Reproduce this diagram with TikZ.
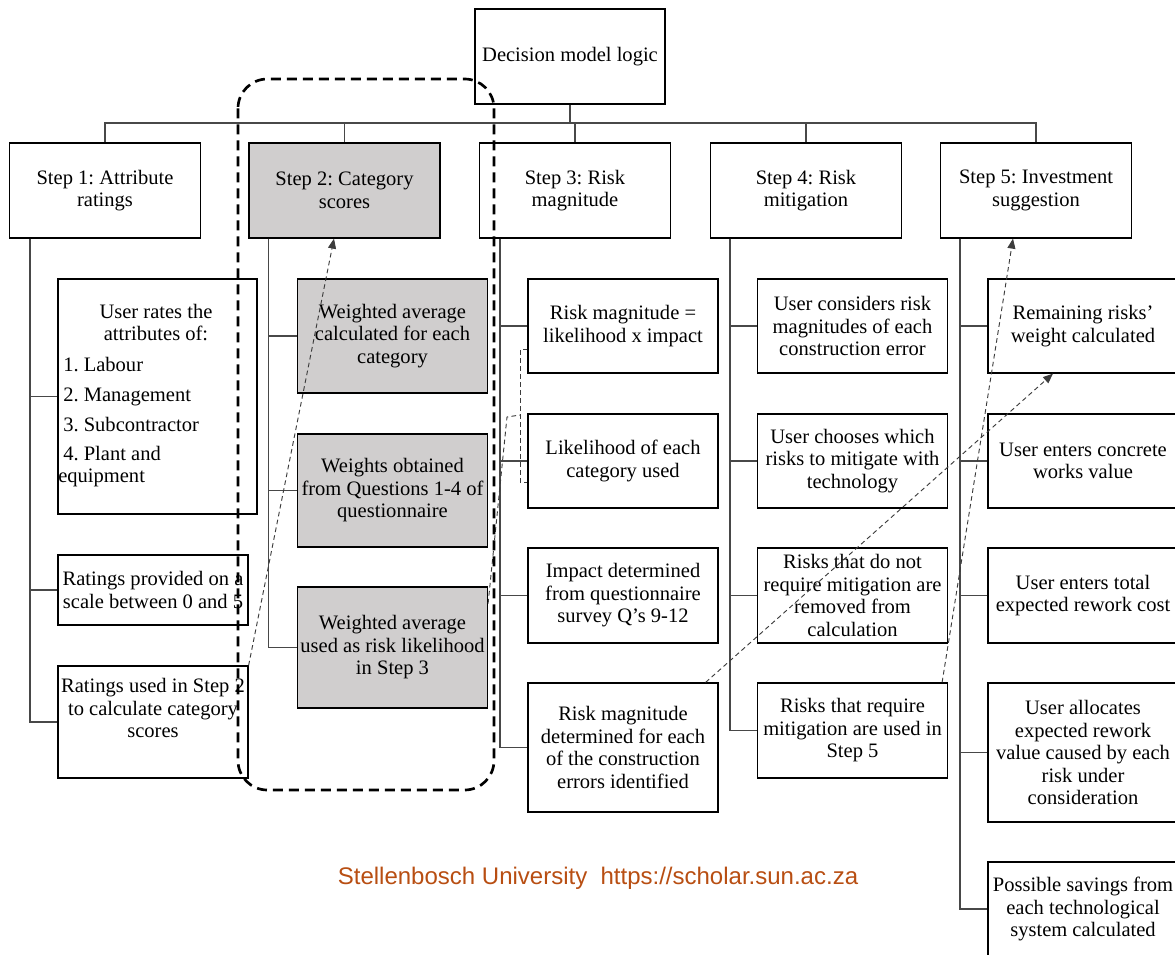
\documentclass[tikz,border=0pt]{standalone}
\usepackage{fontspec}
\setmainfont{Liberation Serif}
\newfontfamily\wmfont{Liberation Sans}
\usetikzlibrary{arrows.meta,calc}
\definecolor{boxgray}{RGB}{208,206,206}
\definecolor{linkgray}{RGB}{72,72,72}
\definecolor{flowgray}{RGB}{60,60,60}
\definecolor{wmorange}{RGB}{184,78,18}
\frenchspacing

\begin{document}
\begin{tikzpicture}[x=0.75pt,y=-0.75pt,
  boxfont/.style={font=\fontsize{15.4}{16.9}\selectfont},
  box/.style={draw=black, line width=0.9pt, fill=white, inner sep=0pt, align=center, boxfont},
  stepbox/.style={box, minimum width=143.25pt, minimum height=71.25pt},
  cbox/.style={box, minimum width=142.5pt},
  gbox/.style={cbox, fill=boxgray},
  txt/.style={inner sep=0pt, boxfont},
  link/.style={draw=linkgray, line width=0.9pt},
  group/.style={draw=black, line width=2pt, dash pattern=on 7.5pt off 4.5pt, rounded corners=22pt},
  flow/.style={draw=flowgray, line width=0.7pt, dash pattern=on 3.5pt off 2.5pt},
  tip/.style={-{Triangle[length=7.5pt,width=6pt]}}
]
\useasboundingbox (0,0) rectangle (1175,954);
\clip (0,0) rectangle (1175,954);

% root and the five steps
\node[box, minimum width=142.5pt, minimum height=71.25pt] (top) at (570,56.5) {Decision model logic};
\node[stepbox] (s1) at (105,190.5) {Step 1: Attribute\\ratings};
\node[stepbox, fill=boxgray] (s2) at (344.5,190.5) {Step 2: Category\\scores};
\node[stepbox] (s3) at (575,190.5) {Step 3: Risk\\magnitude};
\node[stepbox] (s4) at (806,190.5) {Step 4: Risk\\mitigation};
\node[stepbox] (s5) at (1036,190.5) {Step 5: Investment\\suggestion};

% step 1 column
\node[box, minimum width=149.25pt, minimum height=176.25pt] (a1) at (157.5,396.5) {};
\node[txt, anchor=mid] (a1l1) at (156,315) {User rates the};
\node[txt, anchor=mid] (a1l2) at (156,337) {attributes of:};
\node[txt, anchor=mid west] (a1l3) at (63,368) {1. Labour};
\node[txt, anchor=mid west] (a1l4) at (63,398) {2. Management};
\node[txt, anchor=mid west] (a1l5) at (63,428) {3. Subcontractor};
\node[txt, anchor=mid west] (a1l6) at (63,457) {4. Plant and};
\node[txt, anchor=mid west] (a1l7) at (58,479) {equipment};
\node[cbox, minimum height=52.5pt] (a2) at (153,590) {Ratings provided on a\\scale between 0 and 5};
\node[cbox, minimum height=84pt] (a3) at (153,722) {};
\node[txt, align=center] (a3t) at (153,708) {Ratings used in Step 2\\to calculate category\\scores};

% step 2 column
\node[gbox, minimum height=85.5pt] (b1) at (392.5,336) {Weighted average\\calculated for each\\category};
\node[gbox, minimum height=84.75pt] (b2) at (392.5,490.5) {Weights obtained\\from Questions 1-4 of\\questionnaire};
\node[gbox, minimum height=90.75pt] (b3) at (392.5,647.5) {Weighted average\\used as risk likelihood\\in Step 3};

% step 3 column
\node[cbox, minimum height=70.5pt] (c1) at (623,326) {Risk magnitude =\\likelihood x impact};
\node[cbox, minimum height=70.5pt] (c2) at (623,461) {Likelihood of each\\category used};
\node[cbox, minimum height=71.25pt] (c3) at (623,595.5) {Impact determined\\from questionnaire\\survey Q’s 9-12};
\node[cbox, minimum height=96.75pt] (c4) at (623,747.5) {Risk magnitude\\determined for each\\of the construction\\errors identified};

% step 4 column
\node[cbox, minimum height=70.5pt] (d1) at (852.5,326) {User considers risk\\magnitudes of each\\construction error};
\node[cbox, minimum height=70.5pt] (d2) at (852.5,461) {User chooses which\\risks to mitigate with\\technology};
\node[cbox, minimum height=71.25pt] (d3) at (852.5,595.5) {Risks that do not\\require mitigation are\\removed from\\calculation};
\node[cbox, minimum height=71.25pt] (d4) at (852.5,730.5) {Risks that require\\mitigation are used in\\Step 5};

% step 5 column
\node[cbox, minimum height=70.5pt] (e1) at (1083,326) {Remaining risks’\\weight calculated};
\node[cbox, minimum height=70.5pt] (e2) at (1083,461) {User enters concrete\\works value};
\node[cbox, minimum height=71.25pt] (e3) at (1083,595.5) {User enters total\\expected rework cost};
\node[cbox, minimum height=104.25pt] (e4) at (1083,752.5) {User allocates\\expected rework\\value caused by each\\risk under\\consideration};
\node[cbox, minimum height=70.5pt] (e5) at (1083,909) {Possible savings from\\each technological\\system calculated};

% tree connectors
\coordinate (bus) at (570,123);
\draw[link] (top.south) -- (bus);
\foreach \s in {s1,s2,s3,s4,s5} \draw[link] (\s.north) |- (bus);

\coordinate (t1) at ($(s1.south west)+(21,0)$);
\coordinate (t2) at ($(s2.south west)+(20,0)$);
\coordinate (t3) at ($(s3.south west)+(21,0)$);
\coordinate (t4) at ($(s4.south west)+(20,0)$);
\coordinate (t5) at ($(s5.south west)+(20,0)$);
\foreach \c in {a1,a2,a3} \draw[link] (t1) |- (\c.west);
\foreach \c in {b1,b2,b3} \draw[link] (t2) |- (\c.west);
\foreach \c in {c1,c2,c3,c4} \draw[link] (t3) |- (\c.west);
\foreach \c in {d1,d2,d3,d4} \draw[link] (t4) |- (\c.west);
\foreach \c in {e1,e2,e3,e4,e5} \draw[link] (t5) |- (\c.west);

% information flow between steps
\draw[flow, tip] (a3.north east) -- ($(s2.south)+(-10.5,0)$);
\coordinate (j) at (520,415);
\draw[flow] ($(c1.west)+(0,23)$) -- ++(-7,0) |- ($(c2.west)+(0,21)$);
\draw[flow] ($(b3.east)+(0,-44)$) -- (507,417) -- (j);
\draw[flow, tip] ($(c4.north east)+(-13,0)$) -- ($(e1.south)+(-30,0)$);
\draw[flow, tip] ($(d4.north east)+(-6,0)$) -- ($(s5.south)+(-23,0)$);

% step 2 grouping
\draw[group] (238,79) rectangle (494,790);

% footer
\node[font=\wmfont\fontsize{18}{21}\selectfont, text=wmorange, anchor=base, inner sep=0pt] (wm) at (598,884) {Stellenbosch University\ \ https://scholar.sun.ac.za};
\end{tikzpicture}
\end{document}
